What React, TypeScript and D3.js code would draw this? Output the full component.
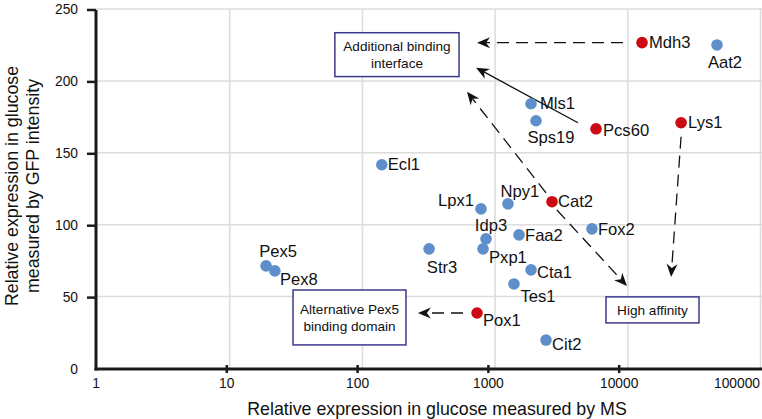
import React from "react";
import * as d3 from "d3";

// ---- data ----
const names = ["Mdh3","Aat2","Mls1","Sps19","Pcs60","Lys1","Ecl1","Lpx1","Npy1","Cat2","Idp3","Pxp1","Faa2","Fox2","Str3","Cta1","Tes1","Pox1","Cit2","Pex5","Pex8"];
const msValues = [12800,47000,1865,2034,5760,25200,140,783,1250,2685,854,811,1514,5370,318,1865,1387,731,2419,18.8,21.9];
const gfpValues = [226.6,225,184.1,172.3,166.7,170.9,141.7,111,114.5,116,90.2,83.2,92.9,97.1,83.2,68.6,58.8,38.6,19.8,71.4,67.9];
const highlighted = ["Mdh3","Pcs60","Lys1","Cat2","Pox1"];

const xTicks = [1,10,100,1000,10000,100000];
const yTicks = [0,50,100,150,200,250];

const boxLabels = [["Additional binding","interface"],["Alternative Pex5","binding domain"],["High affinity"]];
const boxX = [[62,535],[30,213],[6850,34400]];
const boxY = [[203,233.5],[16.4,54.6],[31.7,49.8]];

const arrowFrom = [[9200,226.6],[4215,170.9],[2420,122.2],[2925,110.2],[25200,161.2],[573,38.6]];
const arrowTo = [[731,226.6],[718,209.2],[614,192.5],[9860,57.4],[21200,63.7],[262,38.6]];
const arrowDashed = [true,false,true,true,true,true];

// label layout: [anchor, dx, dy]
const labelLayout: Record<string,[string,number,number]> = {
  Mdh3:["start",7,0], Aat2:["middle",8,17], Mls1:["start",9,0], Sps19:["middle",15,17],
  Pcs60:["start",7,2], Lys1:["start",7,0], Ecl1:["start",6,0], Lpx1:["end",-7,-9],
  Npy1:["middle",12,-13], Cat2:["start",6,0], Idp3:["middle",5,-13], Pxp1:["start",6,8],
  Faa2:["start",6,0], Fox2:["start",6,0], Str3:["middle",13,18], Cta1:["start",6,2],
  Tes1:["middle",24,12], Pox1:["start",6,7], Cit2:["start",6,4], Pex5:["middle",12,-15], Pex8:["start",5,8],
};

const W = 762, H = 419;
const FONT = "'Liberation Sans', Arial, Helvetica, sans-serif";

export default function App() {
  const xGrid = d3.scaleLog().domain([1, 100000]).range([97, 760.5]);
  const xAxis = d3.scaleLog().domain([1, 100000]).range([96, 750]);
  const y = d3.scaleLinear().domain([0, 250]).range([368.5, 9]);
  const axisX0 = 96, axisY0 = 369;

  const arrowHead = (x1: number, y1: number, x2: number, y2: number) => {
    const a = Math.atan2(y2 - y1, x2 - x1);
    const pts: [number, number][] = [[0,0],[-13,-5.5],[-9,0],[-13,5.5]];
    return "M" + pts.map(([px, py]) => {
      const rx = x2 + px * Math.cos(a) - py * Math.sin(a);
      const ry = y2 + px * Math.sin(a) + py * Math.cos(a);
      return `${rx.toFixed(2)},${ry.toFixed(2)}`;
    }).join("L") + "Z";
  };

  return (
    <svg width={W} height={H} style={{ position: "absolute", left: 0, top: 0, background: "#fff" }} fontFamily={FONT}>
      <rect x={0} y={0} width={W} height={H} fill="#fff" />
      {/* grid */}
      {xTicks.slice(1).map((t) => (
        <line key={"gx" + t} x1={xGrid(t)} x2={xGrid(t)} y1={y(250)} y2={y(0)} stroke="#dcdcdc" strokeWidth={1.5} />
      ))}
      {yTicks.slice(1).map((t) => (
        <line key={"gy" + t} x1={axisX0} x2={W} y1={y(t)} y2={y(t)} stroke="#dcdcdc" strokeWidth={1.5} />
      ))}
      {/* arrows */}
      {arrowFrom.map((f, i) => {
        const x1 = xGrid(f[0]), y1 = y(f[1]);
        const x2 = xGrid(arrowTo[i][0]), y2 = y(arrowTo[i][1]);
        const a = Math.atan2(y2 - y1, x2 - x1);
        const ex = x2 - 9 * Math.cos(a), ey = y2 - 9 * Math.sin(a);
        return (
          <g key={"ar" + i}>
            <line x1={x1} y1={y1} x2={ex} y2={ey} stroke="#111" strokeWidth={1.3}
              strokeDasharray={arrowDashed[i] ? "12,7" : undefined} />
            <path d={arrowHead(x1, y1, x2, y2)} fill="#111" />
          </g>
        );
      })}
      {/* boxes */}
      {boxLabels.map((lines, i) => {
        const x0 = xGrid(boxX[i][0]), x1 = xGrid(boxX[i][1]);
        const y0 = y(boxY[i][1]), y1 = y(boxY[i][0]);
        const cx = (x0 + x1) / 2, cy = (y0 + y1) / 2;
        const lh = 16.5;
        return (
          <g key={"bx" + i}>
            <rect x={x0} y={y0} width={x1 - x0} height={y1 - y0} fill="#fff" stroke="#3c3a8a" strokeWidth={1.5} />
            {lines.map((l, j) => (
              <text key={j} x={cx} y={cy + (j - (lines.length - 1) / 2) * lh + 4.8} textAnchor="middle" fontSize={13.6} fill="#111">{l}</text>
            ))}
          </g>
        );
      })}
      {/* points */}
      {names.map((n, i) => (
        <circle key={"p" + n} cx={xGrid(msValues[i])} cy={y(gfpValues[i])} r={5.8}
          fill={highlighted.includes(n) ? "#cc0a14" : "#5f8fca"} />
      ))}
      {names.map((n, i) => {
        const [anchor, dx, dy] = labelLayout[n];
        return (
          <text key={"l" + n} x={xGrid(msValues[i]) + dx} y={y(gfpValues[i]) + dy + 5.7}
            textAnchor={anchor as any} fontSize={16.6} fill="#111">{n}</text>
        );
      })}
      {/* axes */}
      <line x1={axisX0} x2={axisX0} y1={y(250) + 1} y2={axisY0 + 1.5} stroke="#1a1a1a" strokeWidth={3} />
      <line x1={axisX0 - 1.5} x2={W} y1={axisY0} y2={axisY0} stroke="#1a1a1a" strokeWidth={3} />
      {yTicks.map((t) => (
        <g key={"yt" + t}>
          {t > 0 && <line x1={axisX0 - 9} x2={axisX0} y1={y(t) + 1} y2={y(t) + 1} stroke="#1a1a1a" strokeWidth={2.5} />}
          <text x={78} y={y(t) + 5} textAnchor="end" fontSize={13.8} fill="#111">{t}</text>
        </g>
      ))}
      {xTicks.map((t, i) => {
        const last = i === xTicks.length - 1;
        return (
          <g key={"xt" + t}>
            {i > 0 && !last && <line x1={xAxis(t)} x2={xAxis(t)} y1={axisY0 - 4} y2={axisY0 + 4} stroke="#1a1a1a" strokeWidth={2.5} />}
            <text x={last ? W - 2 : xAxis(t)} y={388} textAnchor={last ? "end" : "middle"} fontSize={13.8} fill="#111">{t}</text>
          </g>
        );
      })}
      <text x={437} y={415} textAnchor="middle" fontSize={17.8} fill="#111">Relative expression in glucose measured by MS</text>
      <g transform="translate(0,186) rotate(-90)">
        <text x={0} y={18} textAnchor="middle" fontSize={17.8} fill="#111">Relative expression in glucose</text>
        <text x={0} y={39} textAnchor="middle" fontSize={17.8} fill="#111">measured by GFP intensity</text>
      </g>
    </svg>
  );
}
